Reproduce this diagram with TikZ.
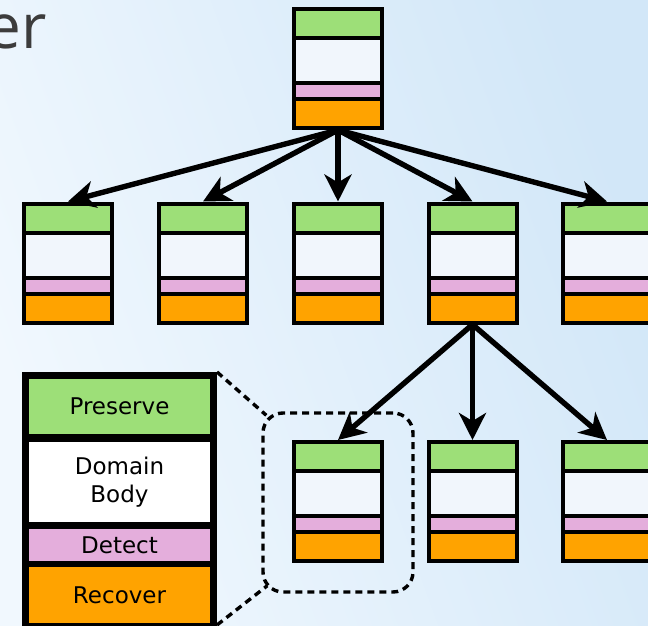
\documentclass[tikz,border=0pt]{standalone}
\usepackage{fontspec}
\setmainfont{DejaVu Sans}
\newfontfamily\titlefont{Open Sans}
\usetikzlibrary{arrows.meta}

\definecolor{segGreen}{HTML}{9DDF78}
\definecolor{segPink}{HTML}{E4AEDC}
\definecolor{segOrange}{HTML}{FFA300}
\definecolor{segBody}{HTML}{F1F6FC}
\definecolor{bgLeft}{HTML}{F1F8FE}
\definecolor{bgRight}{HTML}{D2E7F8}
\definecolor{titleGray}{HTML}{3C3C3C}

\tikzset{
  layerbox/.style={rectangle, fill=black, minimum width=92pt, minimum height=123pt,
    inner sep=0pt, outer sep=0pt},
  legendbox/.style={rectangle, fill=black, minimum width=195pt, minimum height=258pt,
    inner sep=0pt, outer sep=0pt},
  flow/.style={line width=5.4pt, -{Stealth[length=27pt, width=27pt, inset=8pt]}},
  zoomframe/.style={draw=black, line width=3.4pt, dash pattern=on 7pt off 5pt,
    rounded corners=20pt},
  zoomlink/.style={draw=black, line width=3.4pt, dash pattern=on 7pt off 5pt},
  seglabel/.style={inner sep=0pt, align=center, font=\fontsize{23}{28}\selectfont},
}

% coloured bands of a small layer box, measured from its north-west corner
\newcommand\layerbands[1]{%
  \fill[segGreen] ([shift={(4,4)}]#1.north west) rectangle ([shift={(88,29)}]#1.north west);
  \fill[segBody] ([shift={(4,33)}]#1.north west) rectangle ([shift={(88,74)}]#1.north west);
  \fill[segPink] ([shift={(4,78)}]#1.north west) rectangle ([shift={(88,90)}]#1.north west);
  \fill[segOrange] ([shift={(4,94)}]#1.north west) rectangle ([shift={(88,119)}]#1.north west);
}

\begin{document}
\begin{tikzpicture}[x=1pt, y=-1pt]
  \useasboundingbox (0,0) rectangle (648,626);
  \shade[left color=bgLeft, right color=bgRight, shading angle=110] (0,0) rectangle (648,626);

  % heading fragment
  \node[anchor=base east, inner sep=0pt, text=titleGray,
        font=\titlefont\fontsize{62}{62}\selectfont] (title) at (47,49) {er};

  % tree of layer boxes
  \node[layerbox] (root) at (338,68.5) {};
  \node[layerbox] (a1) at (68,263) {};
  \node[layerbox] (a2) at (203,263) {};
  \node[layerbox] (a3) at (338,263) {};
  \node[layerbox] (a4) at (472.5,263) {};
  \node[layerbox] (a5) at (607,263) {};
  \node[layerbox] (b1) at (338,501.5) {};
  \node[layerbox] (b2) at (472.5,501.5) {};
  \node[layerbox] (b3) at (607,501.5) {};
  \foreach \n in {root,a1,a2,a3,a4,a5,b1,b2,b3} {\layerbands{\n}}

  \foreach \n in {a1,a2,a3,a4,a5} {\draw[flow] (root.south) -- (\n.north);}
  \foreach \n in {b1,b2,b3} {\draw[flow] (a4.south) -- (\n.north);}

  % magnified legend of one box
  \node[zoomframe, minimum width=150pt, minimum height=179pt, inner sep=0pt] (zoom) at (338,502.5) {};
  \node[legendbox] (legend) at (119.5,501) {};
  \fill[segGreen] ([shift={(7,7)}]legend.north west) rectangle ([shift={(188,62)}]legend.north west);
  \fill[white] ([shift={(7,70)}]legend.north west) rectangle ([shift={(188,150)}]legend.north west);
  \fill[segPink] ([shift={(7,157)}]legend.north west) rectangle ([shift={(188,189)}]legend.north west);
  \fill[segOrange] ([shift={(7,195)}]legend.north west) rectangle ([shift={(188,251)}]legend.north west);
  \node[seglabel] (lpreserve) at (119.5,406.5) {Preserve};
  \node[seglabel] (lbody) at (119.5,482) {Domain\\Body};
  \node[seglabel] (ldetect) at (119.5,545) {Detect};
  \node[seglabel] (lrecover) at (119.5,595) {Recover};

  \draw[zoomlink] (legend.north east) -- ([shift={(5,4)}]zoom.north west);
  \draw[zoomlink] ([shift={(0,-5)}]legend.south east) -- ([shift={(6,-8)}]zoom.south west);
\end{tikzpicture}
\end{document}
